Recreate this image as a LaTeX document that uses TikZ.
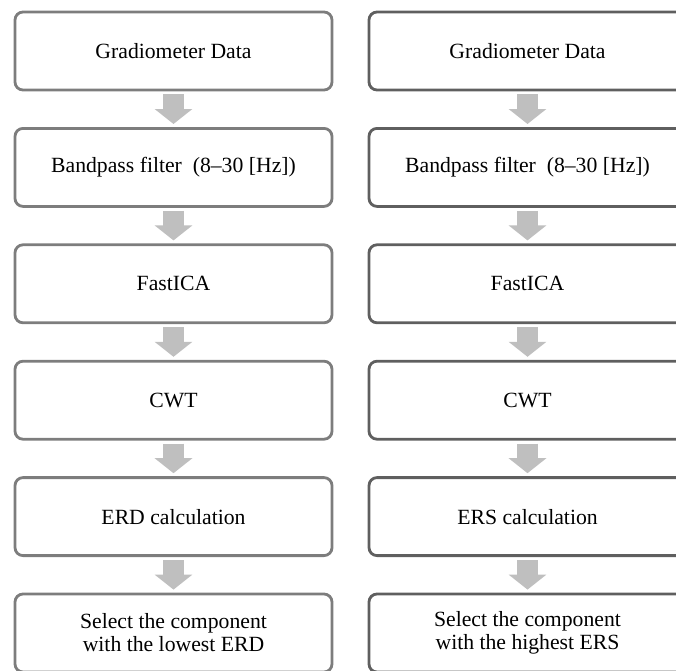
\documentclass[tikz,border=0pt]{standalone}
\usepackage{fontspec}
\setmainfont{Liberation Serif}
\usetikzlibrary{arrows.meta}
\definecolor{lborder}{RGB}{125,125,125}
\definecolor{rborder}{RGB}{95,95,95}
\definecolor{arrgray}{RGB}{191,191,191}

\begin{document}
\begin{tikzpicture}[x=1pt, y=-1pt,
  stepbox/.style={draw, rounded corners=8pt, line width=2.8pt, minimum width=317pt, minimum height=78pt, inner sep=0pt, align=center, font=\fontsize{21.7}{23}\selectfont},
  lbox/.style={stepbox, draw=lborder},
  rbox/.style={stepbox, draw=rborder},
  blockarr/.style={arrgray, line width=21pt, -{Triangle[width=37pt, length=15pt]}, shorten <=3pt, shorten >=3pt}]
  \useasboundingbox (0,0) rectangle (676,670);
  \clip (0,0) rectangle (676,670);

  % left column
  \node[lbox] (ldata) at (173.5,51) {Gradiometer Data};
  \node[lbox] (lfilt) at (173.5,167.4) {Bandpass filter~ (8--30 [Hz])};
  \node[lbox] (lica) at (173.5,283.8) {FastICA};
  \node[lbox] (lcwt) at (173.5,400.2) {CWT};
  \node[lbox] (lerd) at (173.5,516.6) {ERD calculation};
  \node[lbox] (lsel) at (173.5,633) {Select the component\\with the lowest ERD};

  % right column
  \node[rbox] (rdata) at (527.5,51) {Gradiometer Data};
  \node[rbox] (rfilt) at (527.5,167.4) {Bandpass filter~ (8--30 [Hz])};
  \node[rbox] (rica) at (527.5,283.8) {FastICA};
  \node[rbox] (rcwt) at (527.5,400.2) {CWT};
  \node[rbox] (rers) at (527.5,516.6) {ERS calculation};
  \node[rbox] (rsel) at (527.5,633) {Select the component\\with the highest ERS};

  \draw[blockarr] (ldata) -- (lfilt);
  \draw[blockarr] (lfilt) -- (lica);
  \draw[blockarr] (lica) -- (lcwt);
  \draw[blockarr] (lcwt) -- (lerd);
  \draw[blockarr] (lerd) -- (lsel);

  \draw[blockarr] (rdata) -- (rfilt);
  \draw[blockarr] (rfilt) -- (rica);
  \draw[blockarr] (rica) -- (rcwt);
  \draw[blockarr] (rcwt) -- (rers);
  \draw[blockarr] (rers) -- (rsel);
\end{tikzpicture}
\end{document}
